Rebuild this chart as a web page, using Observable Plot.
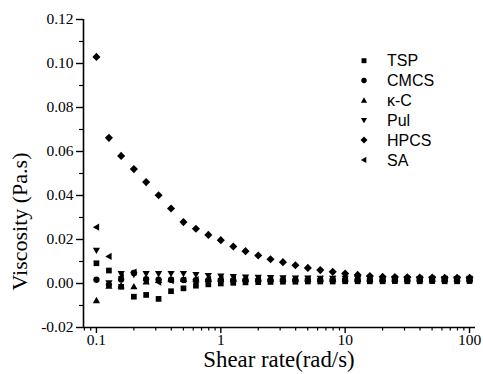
<!DOCTYPE html>
<html>
<head>
<meta charset="utf-8">
<script src="https://cdn.jsdelivr.net/npm/d3@7"></script>
<script src="https://cdn.jsdelivr.net/npm/@observablehq/plot@0.6"></script>
<style>
  html, body { margin: 0; padding: 0; background: white; }
</style>
</head>
<body>
<div id="chart"></div>
<script>
// ---- data ----
const shear = [0.1, 0.126, 0.158, 0.2, 0.251, 0.316, 0.398, 0.501, 0.631, 0.794,
  1, 1.26, 1.58, 2, 2.51, 3.16, 3.98, 5.01, 6.31, 7.94,
  10, 12.6, 15.8, 20, 25.1, 31.6, 39.8, 50.1, 63.1, 79.4, 100];

const tsp = [0.0092, 0.0059, -0.0015, -0.0060, -0.0052, -0.0070, -0.0035, -0.0022, -0.0010, -0.0004,
  0.0000, 0.0003, 0.0005, 0.0006, 0.0007, 0.0008, 0.0008, 0.0009, 0.0009, 0.0009,
  0.0010, 0.0010, 0.0010, 0.0010, 0.0011, 0.0010, 0.0010, 0.0011, 0.0010, 0.0010, 0.0011];
const cmcs = [0.0017, -0.0006, 0.0018, 0.0048, 0.0020, 0.0018, 0.0017, 0.0016, 0.0015, 0.0015,
  0.0015, 0.0014, 0.0015, 0.0015, 0.0014, 0.0015, 0.0015, 0.0015, 0.0014, 0.0015,
  0.0015, 0.0015, 0.0014, 0.0015, 0.0015, 0.0015, 0.0015, 0.0014, 0.0015, 0.0015, 0.0015];
const kc = [-0.0077, -0.0012, -0.0010, -0.0014, 0.0008, 0.0014, 0.0018, 0.0019, 0.0018, 0.0019,
  0.0019, 0.0020, 0.0020, 0.0020, 0.0020, 0.0020, 0.0020, 0.0020, 0.0020, 0.0020,
  0.0020, 0.0020, 0.0020, 0.0020, 0.0020, 0.0020, 0.0020, 0.0020, 0.0020, 0.0020, 0.0020];
const pul = [0.0150, 0.0002, 0.0044, 0.0040, 0.0044, 0.0044, 0.0045, 0.0045, 0.0040, 0.0036,
  0.0033, 0.0031, 0.0029, 0.0027, 0.0026, 0.0025, 0.0024, 0.0024, 0.0023, 0.0023,
  0.0023, 0.0022, 0.0022, 0.0022, 0.0022, 0.0022, 0.0022, 0.0022, 0.0022, 0.0022, 0.0022];
const hpcs = [0.1030, 0.0662, 0.0580, 0.0520, 0.0461, 0.0401, 0.0341, 0.0279, 0.0249, 0.0221,
  0.0197, 0.0168, 0.0147, 0.0127, 0.0110, 0.0097, 0.0083, 0.0071, 0.0061, 0.0053,
  0.0045, 0.0039, 0.0034, 0.0031, 0.0029, 0.0028, 0.0027, 0.0027, 0.0026, 0.0026, 0.0026];
const sa = [0.0256, 0.0123, 0.0030, 0.0052, 0.0012, 0.0006, 0.0013, 0.0016, 0.0018, 0.0019,
  0.0020, 0.0020, 0.0020, 0.0020, 0.0020, 0.0020, 0.0021, 0.0021, 0.0021, 0.0021,
  0.0021, 0.0021, 0.0021, 0.0021, 0.0021, 0.0021, 0.0021, 0.0021, 0.0021, 0.0021, 0.0021];

const seriesNames = ["TSP", "CMCS", "\u03BA-C", "Pul", "HPCS", "SA"];
const seriesValues = [tsp, cmcs, kc, pul, hpcs, sa];

const xMajor = [0.1, 1, 10, 100];
const xMinor = [0.08, 0.09, 0.2, 0.3, 0.4, 0.5, 0.6, 0.7, 0.8, 0.9,
  2, 3, 4, 5, 6, 7, 8, 9, 20, 30, 40, 50, 60, 70, 80, 90];
const yMajor = [-0.02, 0.00, 0.02, 0.04, 0.06, 0.08, 0.10, 0.12];
const yMinor = [-0.01, 0.01, 0.03, 0.05, 0.07, 0.09, 0.11];

// ---- custom symbols (Origin-like) ----
const rOf = size => Math.sqrt(size / Math.PI);
const symSquare = {draw(c, s) { const h = rOf(s) * 0.95; c.rect(-h, -h, 2 * h, 2 * h); }};
const symCircle = {draw(c, s) { const h = rOf(s) * 1.05; c.moveTo(h, 0); c.arc(0, 0, h, 0, 2 * Math.PI); }};
const symUp = {draw(c, s) { const h = rOf(s); c.moveTo(0, -1.2 * h); c.lineTo(1.2 * h, 0.9 * h); c.lineTo(-1.2 * h, 0.9 * h); c.closePath(); }};
const symDown = {draw(c, s) { const h = rOf(s); c.moveTo(0, 1.2 * h); c.lineTo(1.2 * h, -0.9 * h); c.lineTo(-1.2 * h, -0.9 * h); c.closePath(); }};
const symDiamond = {draw(c, s) { const h = rOf(s) * 1.35; c.moveTo(0, -h); c.lineTo(h, 0); c.lineTo(0, h); c.lineTo(-h, 0); c.closePath(); }};
const symLeft = {draw(c, s) { const h = rOf(s); c.moveTo(-1.2 * h, 0); c.lineTo(0.9 * h, -1.2 * h); c.lineTo(0.9 * h, 1.2 * h); c.closePath(); }};
const symbols = [symSquare, symCircle, symUp, symDown, symDiamond, symLeft];

const xDomain = [0.0787, 111.7];
const yDomain = [-0.02, 0.12];
const R = 3;

const dotMarks = seriesNames.map((name, k) =>
  Plot.dot(shear.map((x, i) => ({x, y: seriesValues[k][i], s: name})), {
    x: "x", y: "y", r: R, symbol: symbols[k], fill: "black", stroke: "none"
  })
);

const serif = "Liberation Serif";

const chart = Plot.plot({
  width: 483,
  height: 374,
  marginLeft: 83,
  marginRight: 8,
  marginTop: 19,
  marginBottom: 47,
  style: {fontFamily: serif, fontSize: "15px", background: "white", color: "black"},
  x: {type: "log", domain: xDomain},
  y: {domain: yDomain},
  marks: [
    Plot.axisX({ticks: xMajor, tickSize: 6, tickPadding: 0, tickFormat: d => String(d), label: null,
      fontSize: 15.5, strokeWidth: 1.4}),
    Plot.axisX({ticks: xMinor, tickSize: 3.5, tickFormat: () => "", label: null, strokeWidth: 1.2}),
    Plot.axisY({ticks: yMajor, tickSize: 7, tickPadding: 3, tickFormat: d => d.toFixed(2), label: null,
      fontSize: 15.5, strokeWidth: 1.4}),
    Plot.axisY({ticks: yMinor, tickSize: 4, tickFormat: () => "", label: null, strokeWidth: 1.2}),
    Plot.ruleY([yDomain[0]], {stroke: "black", strokeWidth: 1.6}),
    Plot.ruleX([xDomain[0]], {stroke: "black", strokeWidth: 1.6}),
    ...dotMarks
  ]
});

document.getElementById("chart").appendChild(chart);

const svg = d3.select(chart);
// force serif font and black fill on Plot's tick labels
svg.selectAll("text").style("font-family", serif).style("fill", "black");

// ---- titles & legend ----
svg.append("text")
  .attr("x", 279).attr("y", 367)
  .attr("text-anchor", "middle")
  .style("font-family", serif).attr("font-size", 22.8).attr("fill", "black")
  .text("Shear rate(rad/s)");
svg.append("text")
  .attr("transform", "translate(27,221.5) rotate(-90)")
  .attr("text-anchor", "middle")
  .style("font-family", serif).attr("font-size", 22).attr("fill", "black")
  .text("Viscosity (Pa.s)");

const legend = svg.append("g")
  .style("font-family", "Liberation Sans")
  .attr("font-size", 16)
  .attr("text-anchor", "start");
seriesNames.forEach((name, k) => {
  const y = 60.7 + k * 19.85;
  legend.append("path")
    .attr("transform", `translate(364,${y})`)
    .attr("d", d3.symbol(symbols[k], Math.PI * 2.6 * 2.6)())
    .attr("fill", "black");
  legend.append("text")
    .attr("x", 387).attr("y", y).attr("dy", "0.36em")
    .attr("text-anchor", "start")
    .style("font-family", "Liberation Sans")
    .attr("fill", "black")
    .text(name);
});
</script>
</body>
</html>
